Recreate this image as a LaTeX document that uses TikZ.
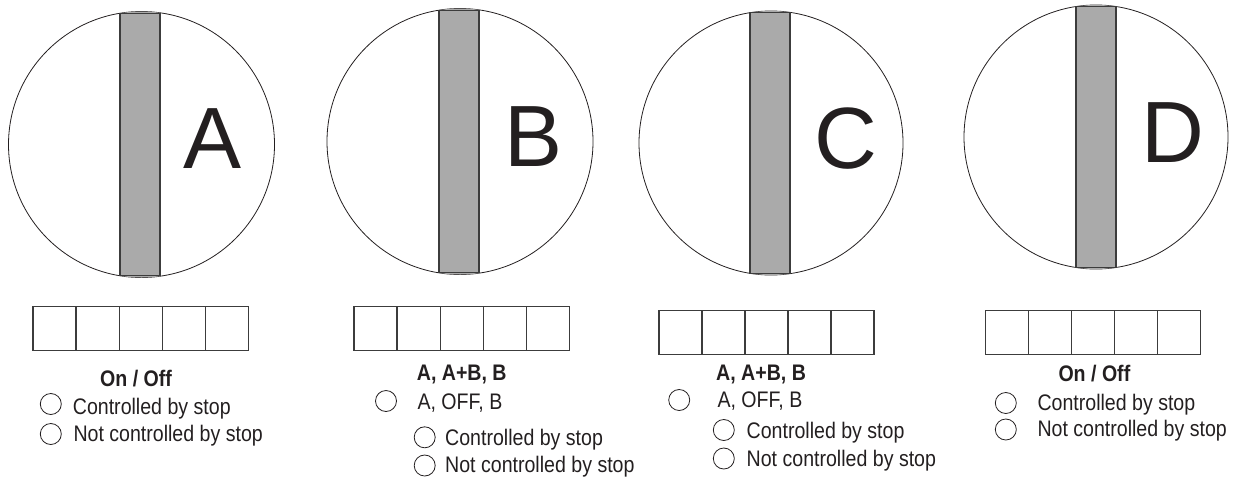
\documentclass[tikz,border=0pt]{standalone}
\usepackage{fontspec}
\setmainfont{Liberation Sans}
\newfontfamily\lblfont[FakeStretch=0.87]{Liberation Sans}
\definecolor{ink}{RGB}{35,31,32}
\definecolor{bargray}{RGB}{170,170,170}
\definecolor{edge}{RGB}{60,60,60}
\begin{document}
\begin{tikzpicture}[x=1pt,y=-1pt,
  dial/.style={draw=ink, line width=0.8pt, circle, minimum size=#1, inner sep=0pt},
  barline/.style={draw=edge, line width=1.2pt},
  bigletter/.style={inner sep=0pt, text=ink, font=\fontsize{87}{90}\selectfont},
  cell/.style={draw=edge, line width=1.2pt, minimum width=43.1pt, minimum height=43.5pt, anchor=north west, inner sep=0pt},
  lbl/.style={anchor=base west, inner sep=0pt, text=ink, font=\lblfont\fontsize{22.5}{26}\selectfont},
  hdr/.style={anchor=base west, inner sep=0pt, text=ink, font=\lblfont\bfseries\fontsize{22.5}{26}\selectfont},
  radio/.style={draw=ink, line width=0.8pt, circle, minimum size=21pt, inner sep=0pt}
]
\useasboundingbox (0,0) rectangle (1233,477);

% ---------- Dial A ----------
\node[dial=266pt] (cA) at (141.5,144.5) {};
\begin{scope}
  \clip (141.5,144.5) circle[radius=133];
  \fill[bargray] (120,0) rectangle (160,300);
\end{scope}
\draw[barline] (120,13.25) rectangle (160,275.75);
\node[bigletter] (lA) at (213,139) {A};

% ---------- Dial B ----------
\node[dial=266pt] (cB) at (460,141.5) {};
\begin{scope}
  \clip (460,141.5) circle[radius=133];
  \fill[bargray] (439,0) rectangle (479,300);
\end{scope}
\draw[barline] (439,10.2) rectangle (479,272.8);
\node[bigletter] (lB) at (534,137) {B};

% ---------- Dial C ----------
\node[dial=264pt] (cC) at (771,143) {};
\begin{scope}
  \clip (771,143) circle[radius=132];
  \fill[bargray] (750,0) rectangle (790,300);
\end{scope}
\draw[barline] (750,12.7) rectangle (790,273.3);
\node[bigletter] (lC) at (845.5,138.5) {C};

% ---------- Dial D ----------
\node[dial=264pt] (cD) at (1096,137) {};
\begin{scope}
  \clip (1096,137) circle[radius=132];
  \fill[bargray] (1076,0) rectangle (1116,300);
\end{scope}
\draw[barline] (1076,6.5) rectangle (1116,267.5);
\node[bigletter] (lD) at (1173,133) {D};

% ---------- Cell rows ----------
\foreach \i in {0,...,4} {
  \node[cell] (bA\i) at ({32.3+43.1*\i},306) {};
  \node[cell] (bB\i) at ({353.3+43.1*\i},306) {};
  \node[cell] (bC\i) at ({658.3+43*\i},310) {};
  \node[cell] (bD\i) at ({985+43*\i},310) {};
}

% ---------- Panel A texts ----------
\node[hdr] (hA) at (100,386.7) {On / Off};
\node[radio] (rA1) at (50.8,404) {};
\node[lbl] (tA1) at (72.7,414) {Controlled by stop};
\node[radio] (rA2) at (50.8,434) {};
\node[lbl] (tA2) at (73.3,441.7) {Not controlled by stop};

% ---------- Panel B texts ----------
\node[hdr] (hB) at (416.7,380.5) {A, A+B, B};
\node[radio] (rB1) at (386,401) {};
\node[lbl] (tB1) at (417.3,409) {A, OFF, B};
\node[radio] (rB2) at (424.7,437.3) {};
\node[lbl] (tB2) at (445,445.5) {Controlled by stop};
\node[radio] (rB3) at (424.7,465.5) {};
\node[lbl] (tB3) at (445,472) {Not controlled by stop};

% ---------- Panel C texts ----------
\node[hdr] (hC) at (716,380.7) {A, A+B, B};
\node[radio] (rC1) at (679.2,400) {};
\node[lbl] (tC1) at (717.3,407) {A, OFF, B};
\node[radio] (rC2) at (723.8,430) {};
\node[lbl] (tC2) at (746.5,438.5) {Controlled by stop};
\node[radio] (rC3) at (723.8,458.5) {};
\node[lbl] (tC3) at (746.5,466.3) {Not controlled by stop};

% ---------- Panel D texts ----------
\node[hdr] (hD) at (1058.3,381.7) {On / Off};
\node[radio] (rD1) at (1005.8,403) {};
\node[lbl] (tD1) at (1037.3,410.7) {Controlled by stop};
\node[radio] (rD2) at (1005.8,429.5) {};
\node[lbl] (tD2) at (1037.3,436.7) {Not controlled by stop};
\end{tikzpicture}
\end{document}
